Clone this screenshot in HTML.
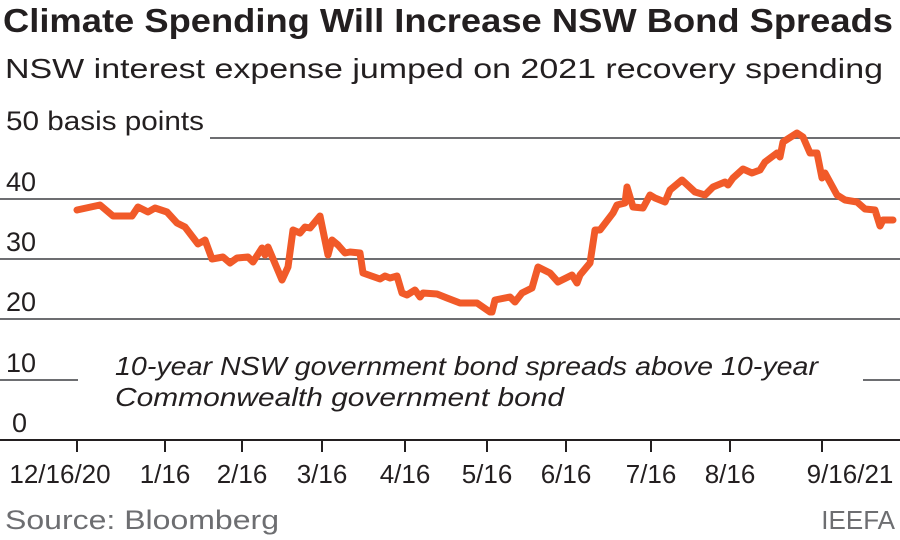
<!DOCTYPE html>
<html><head><style>body{margin:0;background:#fff}svg{display:block}</style></head><body>
<svg width="900" height="540" viewBox="0 0 900 540" xmlns="http://www.w3.org/2000/svg" font-family="Liberation Sans, sans-serif">
<text x="3" y="32" font-size="33" font-weight="bold" fill="#231f20" textLength="890" lengthAdjust="spacingAndGlyphs">Climate Spending Will Increase NSW Bond Spreads</text>
<text x="5" y="78" font-size="28" fill="#231f20" textLength="878" lengthAdjust="spacingAndGlyphs">NSW interest expense jumped on 2021 recovery spending</text>
<g stroke="#6d6e71" stroke-width="2">
<line x1="210" y1="138" x2="900" y2="138"/>
<line x1="0" y1="199" x2="900" y2="199"/>
<line x1="0" y1="259" x2="900" y2="259"/>
<line x1="0" y1="319" x2="900" y2="319"/>
<line x1="0" y1="380" x2="78" y2="380"/>
<line x1="863" y1="380" x2="900" y2="380"/>
<line x1="0" y1="440" x2="900" y2="440" stroke="#231f20"/>
</g>
<g font-size="27" fill="#231f20">
<text x="6" y="130" textLength="198" lengthAdjust="spacingAndGlyphs">50 basis points</text>
<text x="6" y="191">40</text>
<text x="6" y="251">30</text>
<text x="6" y="311">20</text>
<text x="6" y="372">10</text>
<text x="12" y="432">0</text>
</g>
<g stroke="#231f20" stroke-width="2">
<line x1="77" y1="440" x2="77" y2="452"/><line x1="165" y1="440" x2="165" y2="452"/><line x1="242" y1="440" x2="242" y2="452"/><line x1="322" y1="440" x2="322" y2="452"/><line x1="405" y1="440" x2="405" y2="452"/><line x1="487" y1="440" x2="487" y2="452"/><line x1="566" y1="440" x2="566" y2="452"/><line x1="651" y1="440" x2="651" y2="452"/><line x1="730" y1="440" x2="730" y2="452"/><line x1="822" y1="440" x2="822" y2="452"/>
</g>
<g font-size="26" fill="#231f20" text-anchor="middle">
<text x="60" y="483">12/16/20</text><text x="165" y="483">1/16</text><text x="242" y="483">2/16</text><text x="322" y="483">3/16</text><text x="405" y="483">4/16</text><text x="487" y="483">5/16</text><text x="566" y="483">6/16</text><text x="651" y="483">7/16</text><text x="730" y="483">8/16</text><text x="850" y="483">9/16/21</text>
</g>
<g font-size="26" font-style="italic" fill="#231f20">
<text x="115" y="375" textLength="703" lengthAdjust="spacingAndGlyphs">10-year NSW government bond spreads above 10-year</text>
<text x="115" y="406" textLength="449" lengthAdjust="spacingAndGlyphs">Commonwealth government bond</text>
</g>
<text x="5" y="529" font-size="27" fill="#6d6e71" textLength="274" lengthAdjust="spacingAndGlyphs">Source: Bloomberg</text>
<text x="895" y="529" font-size="26" fill="#6d6e71" text-anchor="end">IEEFA</text>
<polyline fill="none" stroke="#f15a29" stroke-width="7" stroke-linejoin="round" stroke-linecap="round" points="77,210 100,205 113,216 132,216 138,207 148,212 155,208 167,212 177,223 185,227 198,244 205,240 212,259 223,257 230,263 237,258 248,257 253,262 262,248 265,255 268,247 282,280 288,267 293,230 300,233 305,227 310,228 320,216 328,255 332,240 338,245 345,253 350,252 360,253 363,273 380,279 385,276 390,278 397,276 402,293 407,295 415,290 420,297 423,293 437,294 447,298 460,303 477,303 490,312 492,312 495,300 510,297 515,302 522,293 532,288 538,267 550,273 558,282 572,275 577,283 580,275 590,263 595,230 600,230 613,213 617,205 625,203 627,187 633,207 643,208 650,195 655,198 665,202 670,190 682,180 695,192 705,195 713,187 725,182 728,185 733,178 743,169 752,173 760,170 765,162 777,153 780,157 783,142 797,133 803,137 810,153 817,153 822,178 825,173 837,195 845,200 857,202 865,209 875,210 880,226 883,220 893,220"/>
</svg>
</body></html>
